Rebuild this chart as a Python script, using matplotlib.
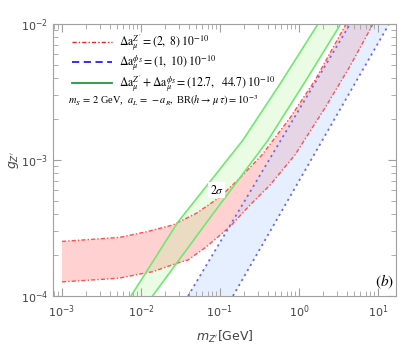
import numpy as np
import matplotlib.pyplot as plt
from matplotlib.lines import Line2D
from matplotlib.font_manager import FontProperties

# Z' band, Delta a = (2, 8) 1e-10
zp_lo_m = [1.0e-3, 3.5e-3, 5.4e-3, 1.12e-2, 1.42e-2, 2.83e-2, 3.94e-2, 6.8e-2, 0.134, 0.240, 0.430, 0.889, 2.13, 4.43, 8.65]
zp_lo_g = [1.27e-4, 1.33e-4, 1.355e-4, 1.475e-4, 1.51e-4, 1.74e-4, 1.84e-4, 2.31e-4, 3.24e-4, 4.67e-4, 6.55e-4, 1.09e-3, 2.41e-3, 4.91e-3, 1.0e-2]
zp_hi_m = [1.0e-3, 3.5e-3, 5.4e-3, 1.18e-2, 2.54e-2, 5.07e-2, 0.10, 0.179, 0.340, 0.769, 1.60, 3.94]
zp_hi_g = [2.52e-4, 2.65e-4, 2.70e-4, 2.97e-4, 3.33e-4, 4.07e-4, 5.35e-4, 7.38e-4, 1.09e-3, 2.04e-3, 3.87e-3, 1.0e-2]

# phi_S band, Delta a = (1, 10) 1e-10
ph_hi_m = [3.94e-2, 4.43]
ph_hi_g = [1.0e-4, 1.0e-2]
ph_lo_m = [0.146, 13.8]
ph_lo_g = [1.0e-4, 1.0e-2]

# sum band, (12.7, 44.7) 1e-10
sm_hi_m = [7.47e-3, 2.94e-2, 0.195, 0.574, 1.74]
sm_hi_g = [1.0e-4, 3.50e-4, 1.40e-3, 3.62e-3, 1.0e-2]
sm_lo_m = [1.40e-2, 7.46e-2, 0.406, 1.19, 3.37]
sm_lo_g = [1.0e-4, 3.75e-4, 1.40e-3, 3.75e-3, 1.0e-2]

serif = FontProperties(family='Liberation Serif', size=8.5, math_fontfamily='stix')
serif_small = FontProperties(family='Liberation Serif', size=7.5, math_fontfamily='stix')

fig = plt.figure(figsize=(4.09, 3.46), dpi=100)
ax = fig.add_axes([0.1296, 0.1445, 0.8386, 0.786])
ax.set_xscale('log')
ax.set_yscale('log')

# red band
ax.fill(np.concatenate([zp_lo_m, zp_hi_m[::-1]]), np.concatenate([zp_lo_g, zp_hi_g[::-1]]),
        color='#ff8c8c', alpha=0.4, lw=0)
red_ls = (0, (3, 1.5, 1, 1.5))
ax.plot(zp_lo_m, zp_lo_g, color='#ff5050', lw=1, ls=red_ls)
ax.plot(zp_hi_m, zp_hi_g, color='#ff5050', lw=1, ls=red_ls)

# green band
ax.fill(np.concatenate([sm_hi_m, sm_lo_m[::-1]]), np.concatenate([sm_hi_g, sm_lo_g[::-1]]),
        color='#b8f5a0', alpha=0.28, lw=0)
ax.plot(sm_hi_m, sm_hi_g, color='#70e870', lw=1.2)
ax.plot(sm_lo_m, sm_lo_g, color='#70e870', lw=1.2)

# blue band
ax.fill(np.concatenate([ph_hi_m, ph_lo_m[::-1]]), np.concatenate([ph_hi_g, ph_lo_g[::-1]]),
        color='#c8dcff', alpha=0.45, lw=0)
ax.plot(ph_hi_m, ph_hi_g, color='#6a6af0', lw=1.3, ls=(0, (1.2, 2)))
ax.plot(ph_lo_m, ph_lo_g, color='#6a6af0', lw=1.3, ls=(0, (1.2, 2)))

ax.set_xlim(7.7e-4, 16.9)
ax.set_ylim(1e-4, 1e-2)

ax.text(0.091, 6.0e-4, r'$2\sigma$', fontproperties=serif, ha='center', va='center',
        bbox=dict(facecolor='white', edgecolor='none', pad=1))
ax.text(0.968, 0.053, r'$(b)$', transform=ax.transAxes, ha='center', va='center',
        fontsize=11, math_fontfamily='stix')

handles = [
    Line2D([], [], color='#ee2020', lw=1, ls=red_ls),
    Line2D([], [], color='#2020ff', lw=1.3, ls=(0, (4, 2.5))),
    Line2D([], [], color='#1f9a3a', lw=1.3),
]
labels = [
    r"$\Delta\mathrm{a}_\mu^{Z'} = (2,\ 8)\;10^{-10}$",
    r"$\Delta\mathrm{a}_\mu^{\phi_S} = (1,\ 10)\;10^{-10}$",
    r"$\Delta\mathrm{a}_\mu^{Z'}+\Delta\mathrm{a}_\mu^{\phi_S} = (12.7,\ \ 44.7)\;10^{-10}$",
]
ax.legend(handles, labels, loc='upper left', bbox_to_anchor=(0.055, 0.97), frameon=False,
          prop=serif, handlelength=3.4, handletextpad=0.6, labelspacing=0.0,
          borderaxespad=0, borderpad=0)
ax.text(0.044, 0.72, r"$m_S\,=\,2$ GeV,  $a_L\,=\,-a_R,$ BR$(h\rightarrow\,\mu\,\tau) = 10^{-3}$",
        transform=ax.transAxes, fontproperties=serif_small, ha='left', va='center')

for s in ax.spines.values():
    s.set_color('#a0a0a0')
ax.tick_params(which='both', direction='in', top=True, right=True, color='#a0a0a0',
               labelcolor='#444444', labelsize=8)
ax.tick_params(which='major', length=6)
ax.tick_params(which='minor', length=3.5)
ax.tick_params(axis='x', which='both', pad=5)

ax.set_xlabel(r"$m_{Z'}$[GeV]", fontsize=9, color='#444444', labelpad=7)
ax.set_ylabel(r"$g_{Z'}$", fontsize=9, color='#444444', labelpad=0)

fig.savefig('out.png', dpi=100)
